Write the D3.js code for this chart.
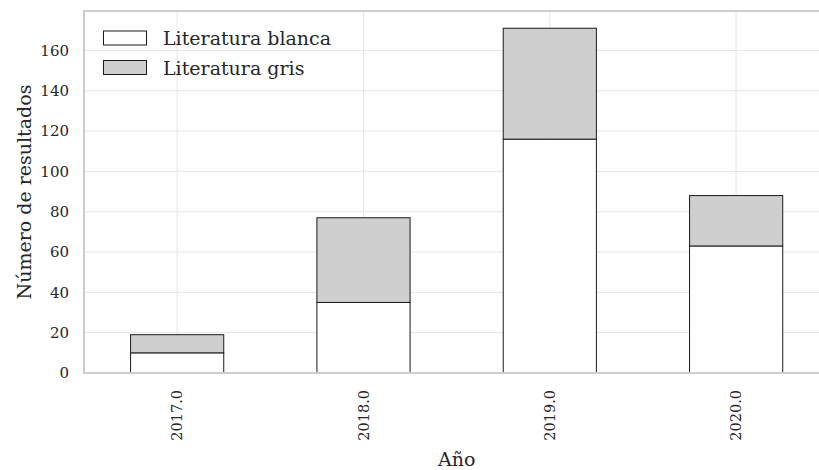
<!DOCTYPE html>
<html>
<head>
<meta charset="utf-8">
<script src="https://cdn.jsdelivr.net/npm/d3@7"></script>
<style>
  html, body { margin: 0; padding: 0; background: #fff; }
  svg { display: block; }
  text { font-family: "DejaVu Serif", "Liberation Serif", serif; fill: #262626; }
</style>
</head>
<body>
<div id="chart"></div>
<script>
const years = ["2017.0", "2018.0", "2019.0", "2020.0"];
const blanca = [10, 35, 116, 63];
const gris = [9, 42, 55, 25];
const seriesNames = ["Literatura blanca", "Literatura gris"];
const seriesColors = ["#ffffff", "#cfcfcf"];
const yTicks = [0, 20, 40, 60, 80, 100, 120, 140, 160];
const xLabel = "Año";
const yLabel = "Número de resultados";

const W = 819, H = 470;
const margin = { left: 84, top: 11, bottom: 97 };
const plotRight = 829.3;
const innerH = H - margin.top - margin.bottom;

const svg = d3.select("#chart").append("svg").attr("width", W).attr("height", H);

const x = d3.scaleBand().domain(years).range([margin.left, plotRight]).paddingInner(0.5).paddingOuter(0.25);
const totals = years.map((d, i) => blanca[i] + gris[i]);
const y = d3.scaleLinear().domain([0, d3.max(totals) * 1.05]).range([margin.top + innerH, margin.top]);

// gridlines
const g = svg.append("g");
g.selectAll("line.hg").data(yTicks).join("line")
  .attr("x1", margin.left).attr("x2", plotRight)
  .attr("y1", d => y(d)).attr("y2", d => y(d))
  .attr("stroke", "#e5e5e5").attr("stroke-width", 1);
g.selectAll("line.vg").data(years).join("line")
  .attr("x1", d => x(d) + x.bandwidth() / 2).attr("x2", d => x(d) + x.bandwidth() / 2)
  .attr("y1", margin.top).attr("y2", y(0))
  .attr("stroke", "#e5e5e5").attr("stroke-width", 1);

// stacked bars
const rows = years.map((yr, i) => ({ year: yr, blanca: blanca[i], gris: gris[i] }));
const stack = d3.stack().keys(["blanca", "gris"])(rows);
svg.append("g").selectAll("g").data(stack).join("g")
  .attr("fill", (d, i) => seriesColors[i])
  .selectAll("rect").data(d => d).join("rect")
  .attr("x", d => x(d.data.year))
  .attr("width", x.bandwidth())
  .attr("y", d => y(d[1]))
  .attr("height", d => y(d[0]) - y(d[1]))
  .attr("stroke", "#1a1a1a").attr("stroke-width", 1);

// spines
svg.append("line").attr("x1", margin.left).attr("x2", margin.left).attr("y1", margin.top).attr("y2", y(0))
  .attr("stroke", "#cccccc").attr("stroke-width", 2);
svg.append("line").attr("x1", margin.left - 1).attr("x2", plotRight).attr("y1", y(0)).attr("y2", y(0))
  .attr("stroke", "#cccccc").attr("stroke-width", 2);
svg.append("line").attr("x1", margin.left - 1).attr("x2", plotRight).attr("y1", margin.top).attr("y2", margin.top)
  .attr("stroke", "#cccccc").attr("stroke-width", 2);

// y axis
const yAxis = svg.append("g").attr("transform", `translate(${margin.left},0)`)
  .call(d3.axisLeft(y).tickValues(yTicks).tickSize(0).tickPadding(15).tickFormat(d3.format("d")));
yAxis.select(".domain").remove();
yAxis.selectAll("text").style("font-family", '"DejaVu Serif", serif').style("font-size", "15px").attr("fill", "#262626");

// x axis
const xAxis = svg.append("g").attr("transform", `translate(0,${y(0)})`)
  .call(d3.axisBottom(x).tickSize(0));
xAxis.select(".domain").remove();
xAxis.selectAll("text")
  .style("font-family", '"DejaVu Serif", serif').style("font-size", "14.5px").attr("fill", "#262626")
  .attr("transform", "rotate(-90)")
  .attr("text-anchor", "end")
  .attr("x", -17).attr("y", 0).attr("dy", "0.35em");

// axis labels
svg.append("text").attr("x", (margin.left + plotRight) / 2).attr("y", 466)
  .attr("text-anchor", "middle").style("font-size", "19px").text(xLabel);
svg.append("text").attr("transform", `translate(31,${(margin.top + y(0)) / 2}) rotate(-90)`)
  .attr("text-anchor", "middle").style("font-size", "19px").text(yLabel);

// legend
const leg = svg.append("g");
seriesNames.forEach((name, i) => {
  const yy = 31 + i * 29.5;
  leg.append("rect").attr("x", 103.5).attr("y", yy).attr("width", 43).attr("height", 14)
    .attr("fill", seriesColors[i]).attr("stroke", "#1a1a1a").attr("stroke-width", 1);
  leg.append("text").attr("x", 163).attr("y", yy + 14).style("font-size", "19px").text(name);
});
</script>
</body>
</html>
